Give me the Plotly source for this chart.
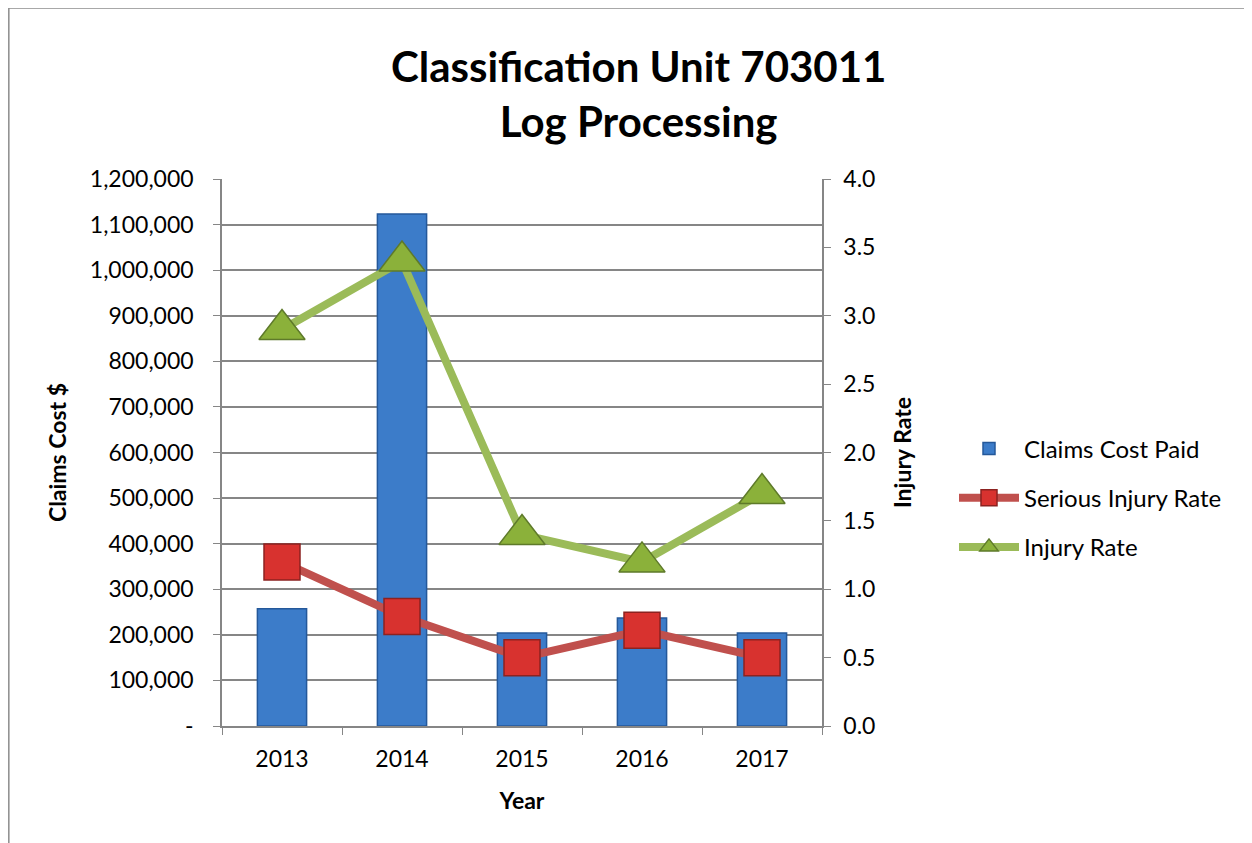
import plotly.graph_objects as go

years = ["2013", "2014", "2015", "2016", "2017"]
claims_cost = [257000, 1123000, 204000, 237000, 204000]
serious_rate = [1.2, 0.8, 0.5, 0.7, 0.5]
injury_rate = [2.9, 3.4, 1.4, 1.2, 1.7]

left_ticks = list(range(0, 1200001, 100000))
left_labels = ["-"] + [f"{v:,}" for v in left_ticks[1:]]

font_name = "Lato, Carlito, 'Open Sans', sans-serif"
axis_grey = "#868686"

fig = go.Figure()

fig.add_trace(go.Bar(
    x=years,
    y=claims_cost,
    name="Claims Cost Paid",
    width=0.41,
    marker=dict(color="#3C7CC9", line=dict(color="#24589A", width=1.5)),
    legendgroup="a",
))

fig.add_trace(go.Scatter(
    x=years,
    y=serious_rate,
    name="Serious Injury Rate",
    yaxis="y2",
    mode="lines+markers",
    line=dict(color="#C0504D", width=8),
    marker=dict(symbol="square", size=36, color="#D8322F",
                line=dict(color="#8C2220", width=1.5)),
    legendgroup="b",
))

fig.add_trace(go.Scatter(
    x=years,
    y=injury_rate,
    name="Injury Rate",
    yaxis="y2",
    mode="lines+markers",
    line=dict(color="#9BBB59", width=8),
    marker=dict(symbol="triangle-up", size=40, color="#8BB13A",
                line=dict(color="#5E7A2A", width=1.5)),
    legendgroup="c",
))

# Outer chart frame (runs off the right and bottom edges like the source)
fig.add_shape(
    type="rect", xref="paper", yref="paper",
    x0=-0.3553, x1=1.75, y0=-0.24, y1=1.3125,
    line=dict(color="#8C8C8C", width=1.5),
    layer="below",
)

fig.update_layout(
    width=1244,
    height=835,
    paper_bgcolor="white",
    plot_bgcolor="white",
    font=dict(family=font_name, size=23, color="black"),
    margin=dict(l=214, r=430, t=171, b=117),
    title=dict(
        text="<b>Classification Unit 703011<br>Log Processing</b>",
        x=0.507, xref="container", xanchor="center",
        y=0.911, yref="container", yanchor="middle",
        font=dict(family=font_name, size=42, color="black"),
    ),
    bargap=0.59,
    showlegend=True,
    legend=dict(
        x=1.22, xanchor="left",
        y=0.417, yanchor="middle",
        font=dict(family=font_name, size=24),
        tracegroupgap=15,
        itemwidth=60,
        bgcolor="rgba(0,0,0,0)",
    ),
    xaxis=dict(
        type="category",
        showline=True, linecolor=axis_grey, linewidth=1.5,
        ticks="outside", tickson="boundaries", ticklen=7, tickcolor=axis_grey,
        tickfont=dict(size=23),
        ticklabelstandoff=12,
        title=dict(text="<b>Year</b>", font=dict(size=23), standoff=22),
        showgrid=False,
    ),
    yaxis=dict(
        range=[0, 1200000],
        tickvals=left_ticks,
        ticktext=left_labels,
        showline=True, linecolor=axis_grey, linewidth=1.5,
        ticks="outside", ticklen=7, tickcolor=axis_grey,
        showgrid=True, gridcolor=axis_grey, gridwidth=1.5,
        tickfont=dict(size=23),
        ticklabelstandoff=15,
        title=dict(text="<b>Claims Cost $</b>", font=dict(size=23), standoff=17),
        zeroline=False,
    ),
    yaxis2=dict(
        overlaying="y",
        side="right",
        range=[0, 4],
        dtick=0.5,
        tickformat=".1f",
        showline=True, linecolor=axis_grey, linewidth=1.5,
        ticks="outside", ticklen=7, tickcolor=axis_grey,
        showgrid=False,
        zeroline=False,
        tickfont=dict(size=23),
        ticklabelstandoff=8,
        title=dict(text="<b>Injury Rate</b>", font=dict(size=23), standoff=20),
    ),
)

fig.write_html("out.html")
